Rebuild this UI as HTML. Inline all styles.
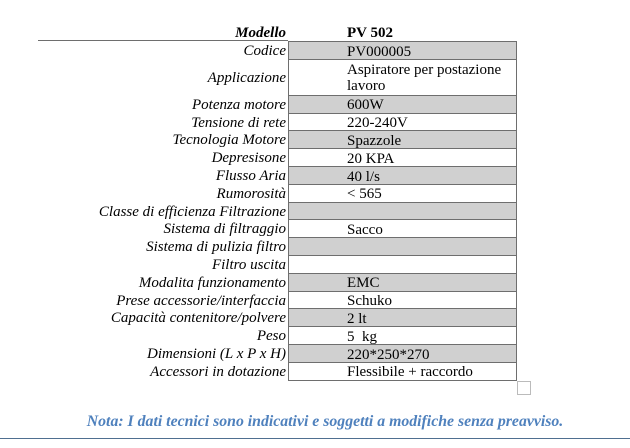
<!DOCTYPE html>
<html><head><meta charset="utf-8"><style>
body{margin:0;width:630px;height:448px;background:#fff;position:relative;overflow:hidden;font-family:"Liberation Serif","DejaVu Serif",serif;font-size:15px;color:#000}
.l{position:absolute;right:344px;font-style:italic;text-align:right;white-space:nowrap;line-height:18px}
.v{position:absolute;left:288px;width:229px;border:1px solid #6e6e6e;box-sizing:border-box;padding-left:58px;line-height:16px;white-space:nowrap}
.g{background:#d0d0d0}
</style></head><body>
<div class="l" style="top:24px;font-weight:bold">Modello</div>
<div style="position:absolute;left:347px;top:24px;font-weight:bold;line-height:18px">PV 502</div>
<div style="position:absolute;left:38px;top:40px;width:250px;height:1px;background:#6e6e6e"></div>
<div id="rows"></div>
<div style="position:absolute;left:517px;top:381px;width:14px;height:14px;border:1px solid #bbb;box-sizing:border-box"></div>
<div style="position:absolute;left:0;width:650px;top:413px;text-align:center;color:#4f81bd;font-weight:bold;font-style:italic;font-size:15.8px">Nota: I dati tecnici sono indicativi e soggetti a modifiche senza preavviso.</div>
<div style="position:absolute;left:0;top:438px;width:630px;height:1px;background:#4f6f90"></div>
<script>
var d=[["Codice","PV000005",1],["Applicazione","Aspiratore per postazione<br>lavoro",0,36],["Potenza motore","600W",1],["Tensione di rete","220-240V",0],["Tecnologia Motore","Spazzole",1],["Depresisone","20 KPA",0],["Flusso Aria","40 l/s",1],["Rumorosità","< 565",0],["Classe di efficienza Filtrazione","",1],["Sistema di filtraggio","Sacco",0],["Sistema di pulizia filtro","",1],["Filtro uscita","",0],["Modalita funzionamento","EMC",1],["Prese accessorie/interfaccia","Schuko",0],["Capacità contenitore/polvere","2 lt",1],["Peso","5&nbsp; kg",0],["Dimensioni (L x P x H)","220*250*270",1],["Accessori in dotazione","Flessibile + raccordo",0]];
var y=41,h="";
d.forEach(function(r){var hh=r[3]||17.8;
h+='<div class="l" style="top:'+(y+hh/2-8)+'px">'+r[0]+'</div>';
h+='<div class="v'+(r[2]?' g':'')+'" style="top:'+y+'px;height:'+(hh+1)+'px;padding-top:'+(r[3]?2:1.5)+'px">'+r[1].replace('<','&lt;').replace('&lt;br>','<br>')+'</div>';
y+=hh;});
document.getElementById('rows').innerHTML=h;
</script>
</body></html>
